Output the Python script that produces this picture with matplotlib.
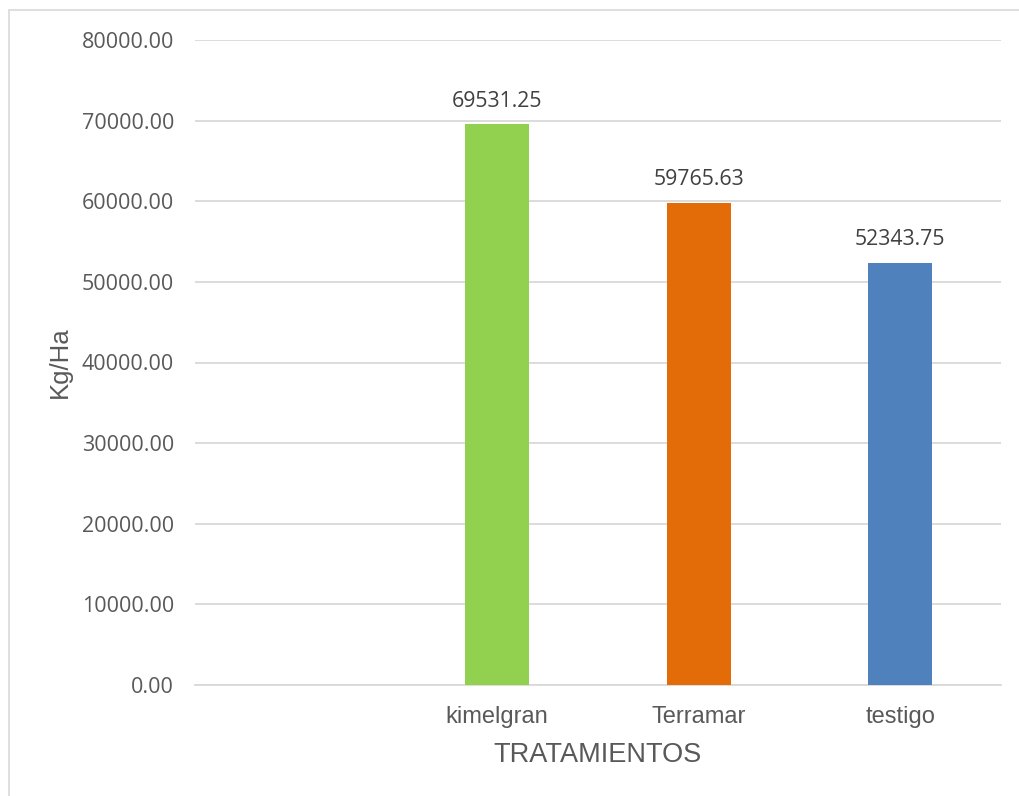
import numpy as np
import matplotlib
matplotlib.use("Agg")
from matplotlib import pyplot as plt
from matplotlib.patches import Rectangle

categories = ["", "kimelgran", "Terramar", "testigo"]
treatments = ["kimelgran", "Terramar", "testigo"]
yields = [69531.25, 59765.63, 52343.75]
colors = ["#92D050", "#E36C09", "#4F81BD"]
y_ticks = [0, 10000, 20000, 30000, 40000, 50000, 60000, 70000, 80000]

W, H = 1020, 796
fig = plt.figure(figsize=(W / 100, H / 100), dpi=100)
fig.patch.set_facecolor("white")

# chart-area frame (runs off the right and bottom edge like the source)
fig.patches.append(Rectangle((9 / W, -0.1), 1.2, (H - 10) / H + 0.1,
                             transform=fig.transFigure, fill=False,
                             edgecolor="#D9D9D9", linewidth=1.2))

ax = fig.add_axes([195 / W, (H - 685) / H, (1001 - 195) / W, (685 - 40) / H])

pos = [categories.index(t) for t in treatments]
bars = ax.bar(pos, yields, width=0.32, color=colors, zorder=3)
for b, v in zip(bars, yields):
    ax.text(b.get_x() + b.get_width() / 2, v + 1600, f"{v:.2f}",
            ha="center", va="bottom", fontsize=15.3, color="#404040",
            family="Open Sans")

ax.set_xlim(-0.5, len(categories) - 0.5)
ax.set_ylim(0, 80000)
ax.set_yticks(y_ticks)
ax.set_yticklabels([f"{t:.2f}" for t in y_ticks], family="Open Sans",
                   fontsize=15.5, color="#595959")
ax.set_xticks(range(len(categories)))
ax.set_xticklabels(categories, family="Liberation Sans", fontsize=17,
                   color="#595959")
ax.tick_params(axis="both", length=0)
ax.tick_params(axis="y", pad=15)
ax.tick_params(axis="x", pad=15)

ax.grid(axis="y", color="#D9D9D9", linewidth=1.3, zorder=0)
for s in ["top", "right", "left"]:
    ax.spines[s].set_visible(False)
ax.spines["bottom"].set_color("#D9D9D9")
ax.spines["bottom"].set_linewidth(1.3)

ax.set_ylabel("Kg/Ha", family="Liberation Sans", fontsize=18.5, color="#595959")
ax.yaxis.set_label_coords(-0.153, 0.5)
ax.set_xlabel("TRATAMIENTOS", family="Liberation Sans", fontsize=19.5,
              color="#595959")
ax.xaxis.set_label_coords(0.5, -0.088)

fig.savefig("out.png", dpi=100)
